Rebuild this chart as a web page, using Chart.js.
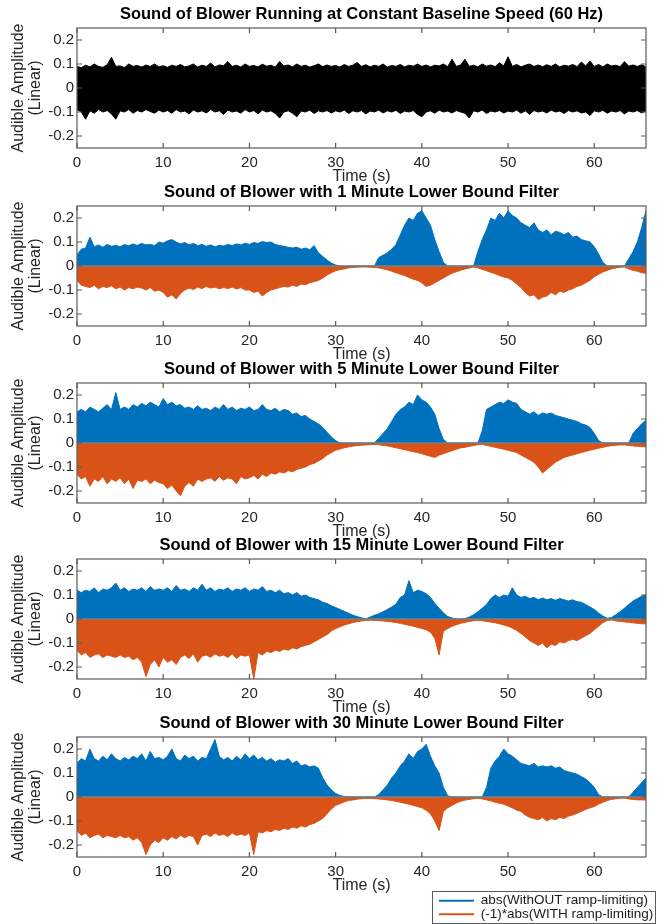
<!DOCTYPE html>
<html>
<head>
<meta charset="utf-8">
<title>Blower sound</title>
<script src="https://cdn.jsdelivr.net/npm/chart.js@4.4.1/dist/chart.umd.min.js"></script>
<style>
  html, body { margin: 0; padding: 0; background: #fff; overflow: hidden; }
  #fig { position: relative; width: 666px; height: 924px; overflow: hidden; }
  #fig canvas { position: absolute; left: 0; }
</style>
</head>
<body>
<div id="fig">
  <canvas id="p1" width="666" height="184" style="top:0px"></canvas>
  <canvas id="p2" width="666" height="184" style="top:178px"></canvas>
  <canvas id="p3" width="666" height="184" style="top:355px"></canvas>
  <canvas id="p4" width="666" height="184" style="top:531px"></canvas>
  <canvas id="p5" width="666" height="184" style="top:709px"></canvas>
  <canvas id="key" width="460" height="33" style="left:432px; top:891px"></canvas>
</div>
<script>
// envelope samples, one every half second from 0 to 66 s
const sampleStep = 0.5;
const xTicks = [0, 10, 20, 30, 40, 50, 60];
const yTicks = [-0.2, -0.1, 0, 0.1, 0.2];
const seriesNames = ['abs(WithOUT ramp-limiting)', '(-1)*abs(WITH ramp-limiting)'];
const titles = [
  'Sound of Blower Running at Constant Baseline Speed (60 Hz)',
  'Sound of Blower with 1 Minute Lower Bound Filter',
  'Sound of Blower with 5 Minute Lower Bound Filter',
  'Sound of Blower with 15 Minute Lower Bound Filter',
  'Sound of Blower with 30 Minute Lower Bound Filter'
];

// constant 60 Hz run, positive and negative peaks
const baselineHi = [
  0.09,0.085,0.095,0.088,0.1,0.09,0.086,0.097,0.128,0.09,
  0.092,0.085,0.1,0.09,0.094,0.087,0.096,0.09,0.1,0.088,
  0.093,0.086,0.095,0.09,0.098,0.088,0.092,0.1,0.087,0.095,
  0.09,0.104,0.088,0.096,0.093,0.11,0.09,0.095,0.087,0.1,
  0.09,0.094,0.088,0.099,0.091,0.095,0.087,0.11,0.092,0.096,
  0.088,0.1,0.09,0.095,0.087,0.093,0.1,0.089,0.096,0.09,
  0.094,0.087,0.098,0.09,0.095,0.106,0.09,0.097,0.088,0.095,
  0.09,0.1,0.087,0.094,0.09,0.098,0.088,0.095,0.091,0.1,
  0.09,0.096,0.088,0.095,0.092,0.1,0.089,0.12,0.09,0.096,
  0.12,0.09,0.095,0.088,0.1,0.091,0.096,0.089,0.105,0.092,
  0.13,0.09,0.098,0.088,0.095,0.1,0.09,0.096,0.089,0.097,
  0.09,0.1,0.088,0.095,0.091,0.098,0.089,0.108,0.092,0.112,
  0.09,0.098,0.088,0.1,0.092,0.095,0.089,0.11,0.091,0.096,
  0.09,0.097,0.088
];
const baselineLo = [
  -0.09,-0.1,-0.13,-0.095,-0.105,-0.09,-0.1,-0.094,-0.108,-0.13,
  -0.095,-0.1,-0.09,-0.105,-0.094,-0.1,-0.09,-0.098,-0.105,-0.092,
  -0.1,-0.094,-0.105,-0.09,-0.1,-0.096,-0.108,-0.092,-0.1,-0.095,
  -0.104,-0.09,-0.1,-0.095,-0.11,-0.092,-0.1,-0.096,-0.105,-0.09,
  -0.1,-0.094,-0.108,-0.092,-0.1,-0.095,-0.106,-0.125,-0.1,-0.095,
  -0.105,-0.12,-0.096,-0.1,-0.092,-0.106,-0.095,-0.1,-0.094,-0.104,
  -0.095,-0.1,-0.092,-0.106,-0.095,-0.1,-0.094,-0.108,-0.096,-0.1,
  -0.092,-0.104,-0.095,-0.1,-0.093,-0.106,-0.096,-0.1,-0.094,-0.11,
  -0.12,-0.1,-0.095,-0.105,-0.092,-0.1,-0.096,-0.104,-0.094,-0.1,
  -0.105,-0.125,-0.095,-0.1,-0.092,-0.106,-0.096,-0.1,-0.094,-0.104,
  -0.096,-0.1,-0.092,-0.105,-0.095,-0.11,-0.094,-0.1,-0.096,-0.104,
  -0.092,-0.1,-0.096,-0.106,-0.094,-0.1,-0.095,-0.104,-0.1,-0.115,
  -0.095,-0.1,-0.093,-0.105,-0.096,-0.1,-0.094,-0.108,-0.096,-0.1,
  -0.094,-0.104,-0.096
];

// 1 minute lower bound filter
const min1Without = [
  0.046,0.07,0.075,0.12,0.08,0.088,0.078,0.09,0.082,0.086,
  0.08,0.09,0.084,0.092,0.086,0.094,0.088,0.09,0.085,0.1,
  0.095,0.105,0.11,0.1,0.092,0.098,0.088,0.094,0.085,0.09,
  0.082,0.088,0.08,0.086,0.083,0.09,0.085,0.092,0.088,0.095,
  0.09,0.098,0.094,0.102,0.098,0.1,0.09,0.085,0.082,0.078,
  0.075,0.078,0.07,0.075,0.068,0.085,0.055,0.04,0.025,0.012,
  0.004,0,0,0,0,0,0,0,0,0,
  0.035,0.045,0.055,0.07,0.09,0.13,0.17,0.2,0.19,0.22,
  0.23,0.2,0.17,0.11,0.06,0.015,0,0,0,0,
  0,0,0,0.06,0.11,0.15,0.2,0.19,0.22,0.2,
  0.23,0.21,0.2,0.18,0.17,0.16,0.18,0.15,0.14,0.15,
  0.13,0.145,0.14,0.13,0.14,0.12,0.125,0.11,0.105,0.1,
  0.08,0.05,0.015,0,0,0,0,0,0.03,0.06,
  0.1,0.16,0.23
];
const min1With = [
  -0.06,-0.08,-0.085,-0.09,-0.08,-0.095,-0.085,-0.09,-0.082,-0.095,
  -0.088,-0.1,-0.09,-0.095,-0.088,-0.092,-0.1,-0.09,-0.105,-0.1,
  -0.11,-0.13,-0.12,-0.137,-0.115,-0.1,-0.092,-0.098,-0.088,-0.094,
  -0.085,-0.092,-0.088,-0.095,-0.09,-0.094,-0.088,-0.096,-0.09,-0.1,
  -0.1,-0.11,-0.105,-0.125,-0.11,-0.1,-0.095,-0.09,-0.085,-0.088,
  -0.08,-0.085,-0.075,-0.078,-0.07,-0.065,-0.06,-0.05,-0.038,-0.028,
  -0.02,-0.015,-0.012,-0.008,-0.006,-0.005,-0.004,-0.004,-0.005,-0.006,
  -0.008,-0.012,-0.016,-0.022,-0.028,-0.034,-0.04,-0.048,-0.055,-0.06,
  -0.07,-0.085,-0.08,-0.07,-0.06,-0.05,-0.04,-0.03,-0.024,-0.018,
  -0.012,-0.008,-0.004,-0.008,-0.014,-0.02,-0.026,-0.032,-0.04,-0.046,
  -0.05,-0.06,-0.075,-0.09,-0.11,-0.125,-0.12,-0.14,-0.13,-0.125,
  -0.11,-0.12,-0.105,-0.11,-0.1,-0.095,-0.085,-0.08,-0.07,-0.06,
  -0.045,-0.035,-0.025,-0.018,-0.012,-0.008,-0.005,-0.004,-0.012,-0.018,
  -0.022,-0.028,-0.03
];

// 5 minute lower bound filter
const min5Without = [
  0.13,0.14,0.13,0.15,0.14,0.13,0.145,0.16,0.14,0.21,
  0.14,0.15,0.14,0.16,0.15,0.165,0.155,0.17,0.16,0.15,
  0.185,0.16,0.17,0.155,0.16,0.145,0.15,0.14,0.155,0.14,
  0.145,0.135,0.15,0.14,0.16,0.14,0.15,0.135,0.145,0.14,
  0.15,0.135,0.14,0.16,0.14,0.135,0.145,0.13,0.14,0.135,
  0.12,0.125,0.11,0.115,0.1,0.09,0.08,0.065,0.045,0.025,
  0.01,0,0,0,0,0,0,0,0,0,
  0.02,0.04,0.06,0.09,0.12,0.14,0.15,0.17,0.16,0.2,
  0.18,0.17,0.15,0.12,0.06,0.015,0,0,0,0,
  0,0,0,0,0.05,0.14,0.15,0.16,0.17,0.165,
  0.18,0.17,0.165,0.14,0.13,0.12,0.13,0.115,0.125,0.12,
  0.125,0.115,0.11,0.105,0.1,0.095,0.09,0.08,0.075,0.065,
  0.04,0.01,0,0,0,0,0,0,0,0.04,
  0.06,0.08,0.095
];
const min5With = [
  -0.13,-0.15,-0.14,-0.18,-0.15,-0.16,-0.14,-0.17,-0.15,-0.16,
  -0.145,-0.17,-0.15,-0.19,-0.155,-0.16,-0.15,-0.17,-0.155,-0.165,
  -0.17,-0.19,-0.175,-0.2,-0.22,-0.18,-0.165,-0.18,-0.15,-0.16,
  -0.15,-0.145,-0.16,-0.14,-0.155,-0.145,-0.15,-0.17,-0.14,-0.15,
  -0.145,-0.135,-0.15,-0.13,-0.14,-0.125,-0.13,-0.12,-0.125,-0.115,
  -0.12,-0.11,-0.105,-0.1,-0.09,-0.085,-0.075,-0.065,-0.05,-0.04,
  -0.03,-0.025,-0.02,-0.016,-0.013,-0.011,-0.009,-0.008,-0.007,-0.006,
  -0.007,-0.01,-0.012,-0.016,-0.02,-0.024,-0.028,-0.032,-0.036,-0.04,
  -0.045,-0.05,-0.055,-0.06,-0.05,-0.045,-0.038,-0.032,-0.026,-0.02,
  -0.018,-0.014,-0.01,-0.007,-0.006,-0.01,-0.014,-0.018,-0.022,-0.026,
  -0.03,-0.035,-0.04,-0.05,-0.06,-0.07,-0.08,-0.1,-0.125,-0.11,
  -0.095,-0.08,-0.07,-0.06,-0.055,-0.05,-0.045,-0.04,-0.035,-0.03,
  -0.026,-0.022,-0.018,-0.014,-0.011,-0.009,-0.008,-0.008,-0.01,-0.012,
  -0.014,-0.015,-0.016
];

// 15 minute lower bound filter
const min15Without = [
  0.12,0.11,0.12,0.115,0.13,0.11,0.125,0.12,0.13,0.15,
  0.12,0.13,0.115,0.125,0.12,0.13,0.115,0.135,0.12,0.125,
  0.12,0.13,0.115,0.14,0.12,0.125,0.115,0.13,0.12,0.145,
  0.12,0.13,0.115,0.125,0.12,0.13,0.115,0.125,0.12,0.13,
  0.115,0.125,0.12,0.135,0.115,0.12,0.11,0.12,0.105,0.11,
  0.1,0.11,0.095,0.1,0.09,0.085,0.08,0.07,0.065,0.055,
  0.048,0.04,0.032,0.024,0.016,0.01,0.005,0.001,0.008,0.016,
  0.022,0.03,0.04,0.05,0.062,0.09,0.1,0.16,0.11,0.12,
  0.115,0.105,0.09,0.065,0.045,0.025,0.01,0.004,0.001,0,
  0.002,0.008,0.018,0.03,0.045,0.06,0.085,0.1,0.09,0.1,
  0.095,0.13,0.1,0.09,0.095,0.085,0.09,0.08,0.088,0.08,
  0.085,0.078,0.085,0.08,0.075,0.08,0.072,0.07,0.06,0.05,
  0.04,0.025,0.012,0.003,0.006,0.018,0.03,0.045,0.06,0.075,
  0.085,0.095,0.1
];
const min15With = [
  -0.13,-0.15,-0.14,-0.16,-0.15,-0.145,-0.16,-0.15,-0.155,-0.16,
  -0.15,-0.16,-0.155,-0.17,-0.16,-0.18,-0.24,-0.19,-0.17,-0.2,
  -0.16,-0.18,-0.17,-0.19,-0.16,-0.15,-0.165,-0.145,-0.18,-0.155,
  -0.15,-0.16,-0.145,-0.155,-0.15,-0.16,-0.145,-0.165,-0.15,-0.155,
  -0.15,-0.25,-0.14,-0.15,-0.135,-0.14,-0.13,-0.135,-0.125,-0.13,
  -0.12,-0.125,-0.115,-0.11,-0.105,-0.095,-0.085,-0.075,-0.065,-0.05,
  -0.04,-0.032,-0.025,-0.02,-0.015,-0.011,-0.008,-0.006,-0.005,-0.006,
  -0.007,-0.008,-0.01,-0.012,-0.015,-0.018,-0.022,-0.026,-0.03,-0.035,
  -0.04,-0.045,-0.055,-0.08,-0.15,-0.05,-0.04,-0.03,-0.024,-0.018,
  -0.014,-0.01,-0.007,-0.005,-0.007,-0.01,-0.013,-0.016,-0.02,-0.025,
  -0.03,-0.038,-0.048,-0.06,-0.075,-0.09,-0.1,-0.11,-0.1,-0.12,
  -0.105,-0.11,-0.095,-0.1,-0.09,-0.085,-0.09,-0.08,-0.07,-0.06,
  -0.045,-0.03,-0.015,-0.006,-0.004,-0.008,-0.01,-0.012,-0.014,-0.016,
  -0.018,-0.02,-0.02
];

// 30 minute lower bound filter
const min30Without = [
  0.14,0.16,0.15,0.2,0.16,0.15,0.17,0.155,0.18,0.16,
  0.15,0.165,0.155,0.17,0.16,0.18,0.15,0.19,0.16,0.165,
  0.155,0.17,0.2,0.16,0.15,0.175,0.16,0.17,0.15,0.165,
  0.16,0.2,0.24,0.17,0.155,0.165,0.15,0.17,0.155,0.18,
  0.16,0.175,0.155,0.165,0.15,0.16,0.145,0.155,0.15,0.16,
  0.14,0.15,0.13,0.135,0.125,0.13,0.12,0.08,0.05,0.03,
  0.015,0.006,0.002,0,0,0,0,0,0,0,
  0.01,0.03,0.05,0.08,0.1,0.13,0.15,0.18,0.16,0.19,
  0.2,0.22,0.17,0.13,0.1,0.04,0.005,0,0,0,
  0,0,0,0,0,0.04,0.12,0.15,0.17,0.2,
  0.18,0.17,0.155,0.14,0.135,0.13,0.14,0.125,0.13,0.125,
  0.13,0.12,0.125,0.11,0.105,0.1,0.095,0.085,0.075,0.06,
  0.04,0.01,0,0,0,0,0,0,0,0.02,
  0.04,0.06,0.08
];
const min30With = [
  -0.14,-0.16,-0.15,-0.17,-0.16,-0.155,-0.17,-0.16,-0.165,-0.17,
  -0.16,-0.17,-0.165,-0.18,-0.17,-0.19,-0.24,-0.2,-0.18,-0.19,
  -0.17,-0.18,-0.165,-0.175,-0.16,-0.17,-0.16,-0.165,-0.2,-0.16,
  -0.155,-0.165,-0.15,-0.16,-0.155,-0.165,-0.15,-0.16,-0.155,-0.16,
  -0.15,-0.24,-0.145,-0.15,-0.14,-0.145,-0.135,-0.14,-0.13,-0.135,
  -0.125,-0.13,-0.12,-0.125,-0.115,-0.11,-0.1,-0.09,-0.07,-0.05,
  -0.035,-0.028,-0.02,-0.015,-0.012,-0.009,-0.007,-0.006,-0.006,-0.007,
  -0.008,-0.01,-0.012,-0.015,-0.018,-0.022,-0.026,-0.03,-0.035,-0.04,
  -0.045,-0.055,-0.07,-0.1,-0.14,-0.06,-0.045,-0.035,-0.025,-0.018,
  -0.013,-0.01,-0.007,-0.005,-0.008,-0.012,-0.016,-0.022,-0.026,-0.03,
  -0.038,-0.045,-0.055,-0.06,-0.075,-0.085,-0.09,-0.095,-0.085,-0.1,
  -0.09,-0.095,-0.085,-0.09,-0.08,-0.075,-0.068,-0.06,-0.052,-0.045,
  -0.04,-0.03,-0.022,-0.015,-0.01,-0.007,-0.005,-0.005,-0.008,-0.01,
  -0.012,-0.012,-0.013
];

const time = baselineHi.map((_, i) => i * sampleStep);

const BLUE = '#0072BD';
const ORANGE = '#D95319';
const FONT = "'Liberation Sans', Arial, Helvetica, sans-serif";

// MATLAB-style box: frame on all four sides with inward ticks
const axesBox = {
  id: 'axesBox',
  afterDatasetsDraw(chart, args, opts) {
    const { ctx, chartArea: a, scales: { x, y } } = chart;
    ctx.save();
    if (opts.zeroLine) {
      const y0 = y.getPixelForValue(0);
      ctx.strokeStyle = '#7f7f7f';
      ctx.lineWidth = 1.5;
      ctx.beginPath();
      ctx.moveTo(a.left, y0);
      ctx.lineTo(a.right, y0);
      ctx.stroke();
    }
    ctx.strokeStyle = '#5a5a5a';
    ctx.lineWidth = 1.2;
    ctx.beginPath();
    x.ticks.forEach(t => {
      const px = x.getPixelForValue(t.value);
      ctx.moveTo(px, a.bottom); ctx.lineTo(px, a.bottom - 5);
      ctx.moveTo(px, a.top); ctx.lineTo(px, a.top + 5);
    });
    y.ticks.forEach(t => {
      const py = y.getPixelForValue(t.value);
      ctx.moveTo(a.left, py); ctx.lineTo(a.left + 5, py);
      ctx.moveTo(a.right, py); ctx.lineTo(a.right - 5, py);
    });
    ctx.stroke();
    ctx.strokeRect(a.left, a.top, a.width, a.height);
    ctx.restore();
  }
};

function trace(label, values, color) {
  return {
    label: label,
    data: values,
    borderColor: color,
    backgroundColor: color,
    borderWidth: 1,
    fill: 'origin',
    pointRadius: 0,
    tension: 0
  };
}

function panel(id, title, datasets, zeroLine) {
  return new Chart(document.getElementById(id), {
    type: 'line',
    data: { labels: time, datasets: datasets },
    plugins: [axesBox],
    options: {
      responsive: false,
      animation: false,
      layout: { padding: { left: 0, right: 20, top: 0, bottom: 0 } },
      plugins: {
        legend: { display: false },
        tooltip: { enabled: false },
        axesBox: { zeroLine: zeroLine },
        title: {
          display: true,
          text: title,
          fullSize: false,
          color: '#000',
          font: { family: FONT, size: 16.5, weight: 'bold', lineHeight: 1 },
          padding: { top: 6, bottom: 5.5 }
        }
      },
      scales: {
        x: {
          type: 'linear',
          min: 0,
          max: 66,
          grid: { display: false, drawTicks: false },
          border: { display: false },
          afterBuildTicks: s => { s.ticks = xTicks.map(v => ({ value: v })); },
          afterFit: s => { s.height = 36; },
          ticks: { color: '#262626', padding: 6, maxRotation: 0, font: { family: FONT, size: 15 } },
          title: {
            display: true,
            text: 'Time (s)',
            color: '#262626',
            font: { family: FONT, size: 16, lineHeight: 1 },
            padding: { top: 0, bottom: -1 }
          }
        },
        y: {
          min: -0.25,
          max: 0.25,
          grid: { display: false, drawTicks: false },
          border: { display: false },
          afterBuildTicks: s => { s.ticks = yTicks.map(v => ({ value: v })); },
          afterFit: s => { s.width = 77; },
          ticks: {
            color: '#262626',
            padding: 3,
            font: { family: FONT, size: 15 },
            callback: v => String(Math.round(v * 10) / 10)
          },
          title: {
            display: true,
            text: ['Audible Amplitude', '(Linear)'],
            color: '#262626',
            font: { family: FONT, size: 16, lineHeight: 1.05 },
            padding: { top: 10, bottom: 0 }
          }
        }
      }
    }
  });
}

panel('p1', titles[0], [
  trace('upper', baselineHi, '#000'),
  trace('lower', baselineLo, '#000')
], false);
panel('p2', titles[1], [trace(seriesNames[0], min1Without, BLUE), trace(seriesNames[1], min1With, ORANGE)], true);
panel('p3', titles[2], [trace(seriesNames[0], min5Without, BLUE), trace(seriesNames[1], min5With, ORANGE)], true);
panel('p4', titles[3], [trace(seriesNames[0], min15Without, BLUE), trace(seriesNames[1], min15With, ORANGE)], true);
panel('p5', titles[4], [trace(seriesNames[0], min30Without, BLUE), trace(seriesNames[1], min30With, ORANGE)], true);

// shared legend below the last panel, framed like a MATLAB legend box
const keyFrame = {
  id: 'keyFrame',
  afterDraw(chart) {
    const { ctx, height } = chart;
    ctx.save();
    ctx.strokeStyle = '#5a5a5a';
    ctx.lineWidth = 1;
    ctx.strokeRect(0.5, 0.5, 223, height - 1);
    ctx.restore();
  }
};

new Chart(document.getElementById('key'), {
  type: 'line',
  data: {
    labels: [],
    datasets: [
      { label: seriesNames[0], data: [], backgroundColor: BLUE, borderColor: BLUE, borderWidth: 0 },
      { label: seriesNames[1], data: [], backgroundColor: ORANGE, borderColor: ORANGE, borderWidth: 0 }
    ]
  },
  plugins: [keyFrame],
  options: {
    responsive: false,
    animation: false,
    layout: { padding: { left: 7, right: 0, top: 0, bottom: 0 } },
    scales: { x: { display: false }, y: { display: false } },
    plugins: {
      tooltip: { enabled: false },
      legend: {
        position: 'left',
        align: 'center',
        labels: {
          boxWidth: 35,
          boxHeight: 2,
          padding: 0,
          color: '#1a1a1a',
          font: { family: FONT, size: 13.5 }
        }
      }
    }
  }
});
</script>
</body>
</html>
